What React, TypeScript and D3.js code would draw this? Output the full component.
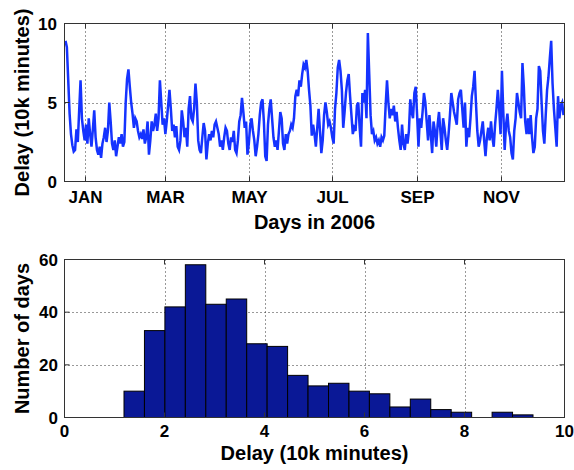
import * as d3 from 'd3'

// daily delay, 10k minutes, one value per day starting 18 Dec 2005
const delayDecFeb = [
  8.9, 8.5, 6.4, 4.3, 3.0, 2.3, 1.9, 2.0, 3.3, 2.5, 4.5, 6.4, 4.0, 3.2, 2.6, 3.6, 2.4, 4.0, 3.0, 2.2,
  3.3, 4.5, 2.8, 2.0, 1.7, 2.2, 1.5, 2.4, 2.8, 3.4, 2.5, 3.2, 5.0, 3.8, 2.4, 2.0, 2.6, 1.6, 2.2, 2.8,
  2.4, 3.0, 2.2, 2.5, 5.0, 6.5, 7.1, 6.0, 5.0, 4.3, 3.4, 4.0, 3.8, 3.2, 2.8, 3.0, 2.7, 3.3, 2.4, 2.8,
  3.8, 1.7, 2.6, 3.8, 3.2, 3.6, 4.3, 3.2, 4.0, 6.4, 5.0, 3.6, 4.0,
]
const delayMarMay = [
  3.0, 3.8, 4.8, 5.8, 4.6, 3.2, 3.6, 2.8, 3.5, 2.2, 2.0, 2.6, 4.5, 3.8, 2.8, 3.4, 2.2, 4.6, 5.4, 4.0,
  3.8, 4.6, 6.2, 5.0, 2.6, 2.0, 1.8, 2.8, 3.7, 3.2, 1.4, 2.4, 3.0, 2.6, 3.2, 2.8, 3.6, 3.8, 3.4, 3.0,
  2.2, 2.6, 2.0, 2.8, 3.4, 3.2, 2.4, 2.0, 2.8, 2.5, 3.2, 2.0, 1.8, 2.6, 3.8, 4.2, 5.3, 4.4, 3.4, 3.8,
  1.7, 2.4, 3.6, 4.0, 3.2, 2.6, 1.6, 2.2, 3.0, 4.2, 5.0, 5.2, 3.8,
]
const delayMayJul = [
  1.6, 1.3, 3.6, 4.6, 5.2, 4.0, 2.8, 2.2, 2.6, 2.0, 3.2, 4.4, 4.0, 2.4, 2.0, 3.0, 2.4, 3.0, 3.2, 3.6,
  3.4, 4.0, 5.4, 5.8, 5.4, 6.4, 6.0, 6.8, 7.4, 7.2, 7.7, 7.0, 5.8, 4.8, 2.9, 3.6, 3.0, 2.2, 3.4, 4.6,
  3.2, 1.8, 2.6, 4.2, 5.0, 4.4, 3.6, 3.8, 3.4, 2.8, 2.4, 4.6, 5.6, 7.2, 7.7, 7.0, 5.8, 3.4, 4.4, 5.6,
  6.4, 6.8, 5.4, 4.2, 3.0, 3.4, 3.2, 4.8, 5.0, 3.4, 2.2, 5.6, 5.0,
]
const delayAugOct = [
  5.8, 4.0, 9.4, 6.8, 4.2, 3.0, 3.2, 2.6, 2.8, 2.4, 2.6, 2.2, 2.8, 2.6, 2.9, 4.8, 6.4, 5.0, 4.0, 4.6,
  4.2, 4.8, 3.8, 4.4, 3.4, 2.6, 2.0, 3.6, 2.4, 2.0, 3.0, 2.4, 3.2, 5.2, 4.4, 4.0, 5.6, 6.0, 4.2, 2.2,
  4.0, 3.4, 4.4, 5.6, 5.0, 3.8, 2.6, 4.2, 3.0, 1.8, 3.8, 3.2, 2.2, 3.6, 4.4, 3.2, 2.0, 4.0, 3.4, 2.6,
  2.0, 3.0, 4.2, 5.6, 5.0, 4.4, 4.0, 3.6, 5.2, 5.6, 5.8, 4.6, 3.4,
]
const delayOctDec = [
  5.0, 2.2, 3.4, 2.8, 4.0, 5.4, 6.0, 7.0, 5.0, 3.2, 2.2, 2.6, 3.2, 3.8, 2.6, 1.6, 2.8, 3.4, 2.6, 3.8,
  2.8, 2.2, 3.6, 4.6, 5.8, 4.6, 3.0, 7.0, 4.4, 2.0, 3.6, 4.3, 3.2, 2.8, 1.8, 1.4, 3.2, 4.0, 5.6, 5.0,
  4.4, 4.0, 7.5, 6.0, 3.8, 3.0, 4.0, 3.0, 4.2, 2.8, 1.8, 2.2, 4.0, 4.6, 7.3, 7.0, 5.0, 3.2, 2.4, 4.2,
  5.8, 6.6, 7.8, 8.9, 6.2, 4.6, 3.4, 2.2, 5.4, 4.0, 4.8, 5.0, 4.2,
]
const dailyDelay = [...delayDecFeb, ...delayMarMay, ...delayMayJul, ...delayAugOct, ...delayOctDec]

// histogram (20 bins between min and max delay)
const histCounts = [10, 33, 42, 58, 43, 45, 28, 27, 16, 12, 13, 10, 9, 4, 7, 3, 2, 0, 2, 1]
const histMin = 1.19
const histMax = 9.37

const delayTicks = [0, 5, 10]
const binTicks = [0, 2, 4, 6, 8, 10]
const countTicks = [0, 20, 40, 60]

const FONT = '"Liberation Sans", Arial, sans-serif'
const W = 574, H = 470
const LINE = '#1533ff'
const BAR = '#0a1896'
const GRID = '#333'

export default function App() {
  const start = new Date(2005, 11, 18)
  const end = d3.timeDay.offset(start, dailyDelay.length - 1)

  // top panel
  const top = { l: 64.5, r: 564.5, t: 23.5, b: 181.5 }
  const x1 = d3.scaleTime().domain([start, end]).range([top.l + 1, top.r - 1])
  const y1 = d3.scaleLinear().domain([0, 10]).range([top.b, top.t])
  const monthTicks = x1.ticks(d3.timeMonth.every(2)!)
  const fmtMonth = d3.timeFormat('%b')
  const line = d3.line<number>()
    .x((_, i) => x1(d3.timeDay.offset(start, i)))
    .y(d => y1(d))

  // bottom panel
  const bot = { l: 64.5, r: 564.5, t: 259.5, b: 417.5 }
  const x2 = d3.scaleLinear().domain([0, 10]).range([bot.l, bot.r])
  const y2 = d3.scaleLinear().domain([0, 60]).range([bot.b, bot.t])
  const binW = (histMax - histMin) / histCounts.length
  const bins = histCounts.map((c, i) => ({ x0: histMin + i * binW, x1: histMin + (i + 1) * binW, c }))

  const tickLen = 5
  const txt = { fontFamily: FONT, fontWeight: 700, fill: '#000' } as const

  return (
    <svg width={W} height={H} style={{ position: 'absolute', left: 0, top: 0, background: '#fff' }}>
      {/* ---------- top: daily delay ---------- */}
      <g>
        {monthTicks.map(t => (
          <line key={+t} x1={Math.round(x1(t)) + 0.5} x2={Math.round(x1(t)) + 0.5} y1={top.t} y2={top.b}
            stroke={GRID} strokeDasharray="1,3" />
        ))}
        {delayTicks.slice(1, -1).map(v => (
          <line key={v} x1={top.l} x2={top.r} y1={Math.round(y1(v)) + 0.5} y2={Math.round(y1(v)) + 0.5}
            stroke={GRID} strokeDasharray="1,3" />
        ))}
        <path d={line(dailyDelay)!} fill="none" stroke={LINE} strokeWidth={2.5} />
        <rect x={top.l} y={top.t} width={top.r - top.l} height={top.b - top.t} fill="none" stroke="#333" />
        {monthTicks.map(t => {
          const xx = Math.round(x1(t)) + 0.5
          return (
            <g key={+t}>
              <line x1={xx} x2={xx} y1={top.b} y2={top.b - tickLen} stroke="#333" />
              <line x1={xx} x2={xx} y1={top.t} y2={top.t + tickLen} stroke="#333" />
              <text x={xx} y={203} textAnchor="middle" fontSize={17} {...txt}>{fmtMonth(t).toUpperCase()}</text>
            </g>
          )
        })}
        {delayTicks.map(v => (
          <g key={v}>
            <line x1={top.l} x2={top.l + tickLen} y1={y1(v)} y2={y1(v)} stroke="#333" />
            <line x1={top.r} x2={top.r - tickLen} y1={y1(v)} y2={y1(v)} stroke="#333" />
            <text x={57} y={y1(v)} dy="0.36em" textAnchor="end" fontSize={17} {...txt}>{v}</text>
          </g>
        ))}
        <text x={(top.l + top.r) / 2} y={229} textAnchor="middle" fontSize={20} {...txt}>Days in 2006</text>
        <text transform={`translate(29,${(top.t + top.b) / 2}) rotate(-90)`} textAnchor="middle" fontSize={20} {...txt}>
          Delay (10k minutes)
        </text>
      </g>

      {/* ---------- bottom: histogram ---------- */}
      <g>
        {binTicks.slice(1, -1).map(v => (
          <line key={v} x1={Math.round(x2(v)) + 0.5} x2={Math.round(x2(v)) + 0.5} y1={bot.t} y2={bot.b}
            stroke={GRID} strokeDasharray="1,3" />
        ))}
        {countTicks.slice(1, -1).map(v => (
          <line key={v} x1={bot.l} x2={bot.r} y1={Math.round(y2(v)) + 0.5} y2={Math.round(y2(v)) + 0.5}
            stroke={GRID} strokeDasharray="1,3" />
        ))}
        {bins.filter(b => b.c > 0).map((b, i) => (
          <rect key={i} x={x2(b.x0)} y={y2(b.c)} width={x2(b.x1) - x2(b.x0)} height={y2(0) - y2(b.c)}
            fill={BAR} stroke="#000" strokeWidth={1} />
        ))}
        <rect x={bot.l} y={bot.t} width={bot.r - bot.l} height={bot.b - bot.t} fill="none" stroke="#333" />
        {binTicks.map(v => (
          <g key={v}>
            <line x1={x2(v)} x2={x2(v)} y1={bot.b} y2={bot.b - tickLen} stroke="#333" />
            <line x1={x2(v)} x2={x2(v)} y1={bot.t} y2={bot.t + tickLen} stroke="#333" />
            <text x={x2(v)} y={437} textAnchor="middle" fontSize={17} {...txt}>{v}</text>
          </g>
        ))}
        {countTicks.map(v => (
          <g key={v}>
            <line x1={bot.l} x2={bot.l + tickLen} y1={y2(v)} y2={y2(v)} stroke="#333" />
            <line x1={bot.r} x2={bot.r - tickLen} y1={y2(v)} y2={y2(v)} stroke="#333" />
            <text x={58} y={y2(v)} dy="0.36em" textAnchor="end" fontSize={17} {...txt}>{v}</text>
          </g>
        ))}
        <text x={(bot.l + bot.r) / 2} y={460} textAnchor="middle" fontSize={20} {...txt}>Delay (10k minutes)</text>
        <text transform={`translate(29,${(bot.t + bot.b) / 2}) rotate(-90)`} textAnchor="middle" fontSize={20} {...txt}>
          Number of days
        </text>
      </g>
    </svg>
  )
}
